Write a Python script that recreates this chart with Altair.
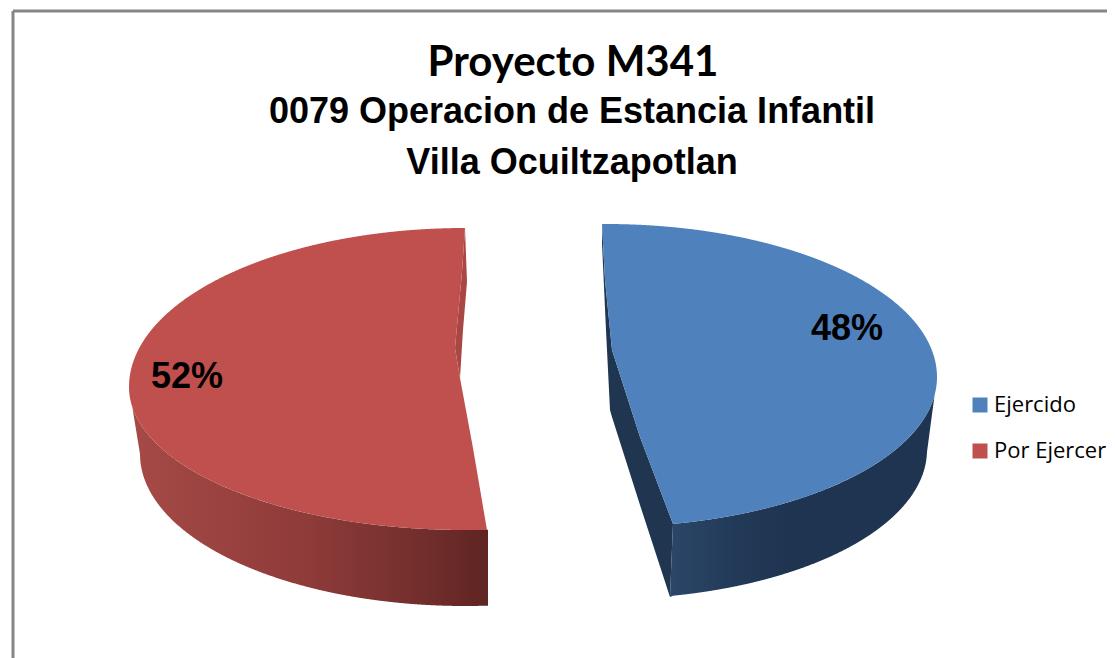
import numpy as np
import pandas as pd
import altair as alt

series = ["Ejercido", "Por Ejercer"]
shares = [48, 52]
face_colors = ["#4f81bd", "#c0504d"]
title_main = ["Proyecto M341"]
title_sub = ["0079 Operacion de Estancia Infantil", "Villa Ocuiltzapotlan"]

# picture-space extents of the exploded slices
BLUE_TOP = dict(cx=606, cy=377, a=331, b_up=153, b_lo=150)
BLUE_BOT = dict(cx=606, cy=450, a=321, b_up=149, b_lo=149)
RED_TOP = dict(cx=465, cy=387, a=336, b_up=159, b_lo=143)
RED_BOT = dict(cx=465, cy=454, a=325, b_up=152, b_lo=152)
BLUE_EDGE = [(602, 224), (605, 280), (612, 350), (640, 437), (673, 524)]
BLUE_WALL_L = [(602, 224), (602, 243), (606, 330), (610, 410), (612, 417), (640, 505), (670, 597)]
BLUE_WALL_R = [(602, 224), (605, 280), (612, 350), (640, 437), (673, 524), (670, 597)]
RED_EDGE = [(465, 228), (462, 272), (455, 348), (460, 378), (473, 448), (487, 530)]
RED_WALL_R = [(465, 228), (467, 282), (463, 330), (460, 378)]
RED_WALL_L = [(465, 228), (462, 272), (455, 348), (460, 378)]


def on_lower(e, x):
    return e["cy"] + e["b_lo"] * np.sqrt(np.clip(1 - ((x - e["cx"]) / e["a"]) ** 2, 0, 1))


def half_width(e, y):
    b = np.where(y < e["cy"], e["b_up"], e["b_lo"])
    return e["a"] * np.sqrt(np.clip(1 - ((y - e["cy"]) / b) ** 2, 0, 1))


def ys_of(e, n=800):
    t = np.linspace(0, np.pi / 2, n)
    return np.r_[e["cy"] - e["b_up"] * np.cos(t), e["cy"] + e["b_lo"] * np.sin(t)[1:]]


def px(pts, y):
    p = np.array(pts, float)
    return np.interp(y, p[:, 1], p[:, 0])


# top faces
yb = ys_of(BLUE_TOP)
yb = yb[yb <= 524]
blue_face = pd.DataFrame({
    "serie": series[0], "y": yb, "xl": px(BLUE_EDGE, yb),
    "xr": BLUE_TOP["cx"] + half_width(BLUE_TOP, yb),
})
blue_face["xr"] = np.maximum(blue_face["xr"], blue_face["xl"])
yr = ys_of(RED_TOP)
yr = yr[yr <= 530]
red_face = pd.DataFrame({
    "serie": series[1], "y": yr,
    "xl": RED_TOP["cx"] - half_width(RED_TOP, yr),
    "xr": px(RED_EDGE, yr),
})
faces = pd.concat([blue_face, red_face])

# inner walls
yw = np.linspace(224, 597, 374)
blue_inner = pd.DataFrame({"y": yw, "xl": px(BLUE_WALL_L, yw), "xr": px(BLUE_WALL_R, yw)})
yw2 = np.linspace(228, 378, 151)
red_inner = pd.DataFrame({"y": yw2, "xl": px(RED_WALL_L, yw2), "xr": px(RED_WALL_R, yw2)})

# outer walls
u = (1 - np.cos(np.linspace(0, np.pi, 700))) / 2
xb = 673 + (937 - 673) * u
blue_y = on_lower(BLUE_TOP, xb)
blue_y2 = on_lower(BLUE_BOT, xb)
m = xb > 927
blue_y2[m] = 452 - (xb[m] - 927) / 10 * 75
blue_y2 = np.maximum(blue_y2, blue_y)
blue_outer = pd.DataFrame({"x": np.r_[670, xb], "y": np.r_[596, blue_y], "y2": np.r_[597, blue_y2]})

xr = 129 + (488 - 129) * u
red_y = on_lower(RED_TOP, xr)
red_y2 = on_lower(RED_BOT, xr)
m = xr < 140
red_y2[m] = 387 + (xr[m] - 129) / 11 * 67
red_y2 = np.maximum(red_y2, red_y)
red_outer = pd.DataFrame({"x": xr, "y": red_y, "y2": red_y2})

X_SCALE = alt.Scale(domain=[8, 1107], nice=False, zero=False)
X = alt.X("x:Q", scale=X_SCALE, axis=None)
Y = alt.Y("y:Q", scale=alt.Scale(domain=[658, 8], nice=False, zero=False), axis=None)
XL = alt.X("xl:Q", scale=X_SCALE, axis=None)


def hband(df, color):
    return alt.Chart(df).mark_area(orient="horizontal", color=color).encode(x=XL, x2="xr:Q", y=Y)


def gradient(stops):
    return alt.Gradient(gradient="linear", x1=0, x2=1, y1=0, y2=0,
                        stops=[alt.GradientStop(offset=o, color=c) for o, c in stops])


def vband(df, fill):
    return alt.Chart(df).mark_area(orient="vertical", color=fill).encode(x=X, y=Y, y2="y2:Q")


walls = [
    hband(blue_inner, "#1f3550"),
    vband(blue_outer, gradient([(0, "#2b4668"), (0.25, "#223a58"), (0.45, "#1f3450"), (1, "#1f3450")])),
    hband(red_inner, "#a84744"),
    vband(red_outer, gradient([(0, "#a64a47"), (0.5, "#8e3b39"), (0.8, "#742f2d"), (1, "#5f2423")])),
]

face = alt.Chart(faces).mark_area(orient="horizontal").encode(
    x=XL, x2="xr:Q", y=Y,
    color=alt.Color("serie:N", scale=alt.Scale(domain=series, range=face_colors),
                    legend=alt.Legend(title=None, orient="none", legendX=961, legendY=386,
                                      symbolType="square", symbolSize=225, symbolStrokeWidth=0,
                                      labelFont="Open Sans", labelFontSize=22, labelColor="#000000",
                                      labelOffset=3, rowPadding=24, padding=0)),
)

labels = alt.Chart(pd.DataFrame({
    "t": [f"{s}%" for s in shares], "x": [847, 187], "y": [340, 388],
})).mark_text(font="Liberation Sans", fontWeight="bold", fontSize=36, color="#000000",
              align="center", baseline="alphabetic").encode(x=X, y=Y, text="t:N")

title1 = alt.Chart(pd.DataFrame({"t": title_main, "x": [573], "y": [76]})).mark_text(
    font="Lato", fontWeight="bold", fontSize=42, color="#000000",
    align="center", baseline="alphabetic").encode(x=X, y=Y, text="t:N")
title2 = alt.Chart(pd.DataFrame({"t": title_sub, "x": [572, 572], "y": [123, 174]})).mark_text(
    font="Liberation Sans", fontWeight="bold", fontSize=36, color="#000000",
    align="center", baseline="alphabetic").encode(x=X, y=Y, text="t:N")

border_h = alt.Chart(pd.DataFrame({"x": [13], "x2": [1107], "y": [11]})).mark_rule(
    color="#868686", strokeWidth=3).encode(x=X, x2="x2:Q", y=Y)
border_v = alt.Chart(pd.DataFrame({"x": [13], "y": [11], "y2": [658]})).mark_rule(
    color="#868686", strokeWidth=3).encode(x=X, y=Y, y2="y2:Q")

chart = alt.layer(
    border_h, border_v, *walls, face, labels, title1, title2
).properties(
    width=1099, height=650, padding=0, background="#ffffff",
    autosize=alt.AutoSizeParams(type="none"),
).configure_view(strokeWidth=0)

chart.save("out.html", embed_options={"renderer": "svg", "actions": False})
